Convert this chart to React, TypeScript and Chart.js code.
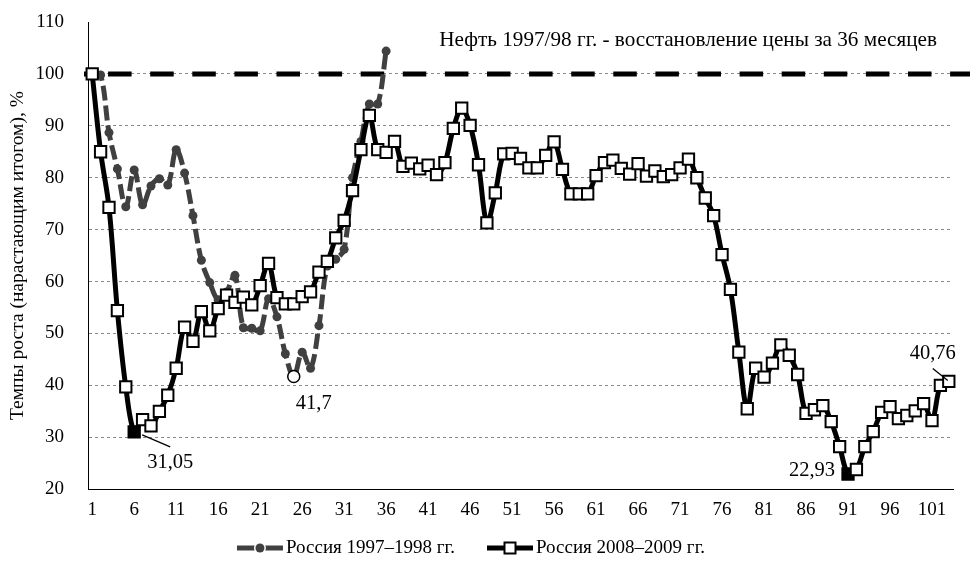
import React, { useEffect, useRef } from 'react';
import { Chart, registerables } from 'chart.js';

Chart.register(...registerables);

// ---------- data ----------
const months: string[] = Array.from({ length: 103 }, (_, i) => String(i + 1));

const russia1997: number[] = [
  100, 99.8, 88.7, 81.7, 74.4, 81.5, 74.8, 78.4, 79.8, 78.6,
  85.4, 80.9, 72.7, 64.1, 59.8, 56.5, 58.0, 61.2, 51.1, 51.0,
  50.5, 56.7, 53.2, 46.1, 41.7, 46.4, 43.3, 51.5, 63.0, 64.3,
  66.2, 80.0, 87.0, 94.2, 94.2, 104.4,
];

const russia2008: number[] = [
  100, 85.0, 74.3, 54.4, 39.7, 31.05, 33.4, 32.2, 35.0, 38.1,
  43.3, 51.2, 48.5, 54.2, 50.5, 54.8, 57.4, 56.0, 57.0, 55.5,
  59.2, 63.5, 56.9, 55.7, 55.7, 57.1, 58.0, 61.8, 63.9, 68.4,
  71.8, 77.5, 85.4, 92.0, 85.4, 84.9, 87.0, 82.2, 82.8, 81.7,
  82.4, 80.6, 82.9, 89.5, 93.4, 90.1, 82.5, 71.3, 77.1, 84.6,
  84.7, 83.7, 81.9, 81.9, 84.3, 86.9, 81.6, 76.9, 76.9, 76.9,
  80.4, 82.9, 83.4, 81.8, 80.7, 82.7, 80.3, 81.3, 80.2, 80.6,
  81.9, 83.6, 80.0, 76.1, 72.7, 65.2, 58.5, 46.4, 35.5, 43.3,
  41.6, 44.3, 47.8, 45.8, 42.1, 34.6, 35.3, 36.1, 33.0, 28.2,
  22.93, 23.8, 28.2, 31.1, 34.8, 35.9, 33.6, 34.2, 35.1, 36.5,
  33.2, 40.0, 40.76,
];

const seriesNames: string[] = ['Россия 1997–1998 гг.', 'Россия 2008–2009 гг.'];
const yTickMin = 20;
const yTickMax = 110;
const yTickStep = 10;
const referenceLevel = 100;
const chartNote = 'Нефть 1997/98 гг. - восстановление цены за 36 месяцев';
const yAxisTitle = 'Темпы роста (нарастающим итогом), %';

const minPoint1997 = 24;
const minPoints2008 = [5, 90];
const lastPoint2008 = 102;

const FONT = "'Liberation Serif', 'Times New Roman', serif";
const GREY = '#404040';

function fmt(v: number): string {
  return String(v).replace('.', ',');
}

function drawIcon(ctx: CanvasRenderingContext2D, kind: number, x: number, y: number) {
  ctx.save();
  ctx.lineWidth = 5;
  ctx.setLineDash([]);
  ctx.strokeStyle = kind === 0 ? GREY : '#000';
  ctx.beginPath();
  ctx.moveTo(x, y);
  ctx.lineTo(x + 46, y);
  ctx.stroke();
  if (kind === 0) {
    ctx.fillStyle = '#fff';
    ctx.beginPath();
    ctx.arc(x + 23, y, 6, 0, Math.PI * 2);
    ctx.fill();
    ctx.fillStyle = GREY;
    ctx.beginPath();
    ctx.arc(x + 23, y, 4.5, 0, Math.PI * 2);
    ctx.fill();
  } else {
    ctx.fillStyle = '#fff';
    ctx.fillRect(x + 17.5, y - 5.5, 11, 11);
    ctx.lineWidth = 2;
    ctx.strokeStyle = '#000';
    ctx.strokeRect(x + 17.5, y - 5.5, 11, 11);
  }
  ctx.restore();
}

const overlayPlugin = {
  id: 'overlay',
  beforeDatasetsDraw(chart: any) {
    const { ctx, scales } = chart;
    const y = scales.y.getPixelForValue(referenceLevel);
    ctx.save();
    ctx.strokeStyle = '#000';
    ctx.lineWidth = 5;
    ctx.setLineDash([23.5, 18.6]);
    ctx.lineDashOffset = 18;
    ctx.beginPath();
    ctx.moveTo(84, y);
    ctx.lineTo(chart.width, y);
    ctx.stroke();
    ctx.restore();
  },
  afterDatasetsDraw(chart: any) {
    const { ctx, scales, chartArea } = chart;
    const xs = scales.x;
    const ys = scales.y;
    ctx.save();
    ctx.fillStyle = '#000';
    ctx.font = `21.2px ${FONT}`;
    ctx.textAlign = 'right';
    ctx.textBaseline = 'middle';
    ctx.fillText(chartNote, chartArea.right - 16, 40);

    ctx.font = `20.5px ${FONT}`;
    ctx.textAlign = 'center';
    ctx.strokeStyle = '#000';
    ctx.lineWidth = 1.3;

    // 31,05 with leader
    const p6x = xs.getPixelForValue(minPoints2008[0]);
    const p6y = ys.getPixelForValue(russia2008[minPoints2008[0]]);
    ctx.beginPath();
    ctx.moveTo(p6x + 8, p6y + 3);
    ctx.lineTo(p6x + 36, p6y + 15);
    ctx.stroke();
    ctx.fillText(fmt(russia2008[minPoints2008[0]]), p6x + 36, p6y + 31);

    // 41,7
    const p25x = xs.getPixelForValue(minPoint1997);
    const p25y = ys.getPixelForValue(russia1997[minPoint1997]);
    ctx.fillText(fmt(russia1997[minPoint1997]), p25x + 20, p25y + 27);

    // 22,93
    const p91x = xs.getPixelForValue(minPoints2008[1]);
    const p91y = ys.getPixelForValue(russia2008[minPoints2008[1]]);
    ctx.fillText(fmt(russia2008[minPoints2008[1]]), p91x - 36, p91y - 3);

    // 40,76 with leader
    const plx = xs.getPixelForValue(lastPoint2008);
    const ply = ys.getPixelForValue(russia2008[lastPoint2008]);
    ctx.beginPath();
    ctx.moveTo(plx - 16, ply - 13);
    ctx.lineTo(plx - 1, ply - 1);
    ctx.stroke();
    ctx.fillText(fmt(russia2008[lastPoint2008]), plx - 16, ply - 28);
    ctx.restore();
  },
  afterDraw(chart: any) {
    const { ctx } = chart;
    ctx.save();
    ctx.font = `19px ${FONT}`;
    ctx.fillStyle = '#000';
    ctx.textBaseline = 'middle';
    ctx.textAlign = 'left';
    const w0 = ctx.measureText(seriesNames[0]).width;
    const w1 = ctx.measureText(seriesNames[1]).width;
    const iconW = 46;
    const gapIcon = 3;
    const gapItem = 32;
    const total = iconW + gapIcon + w0 + gapItem + iconW + gapIcon + w1;
    const cy = 548;
    let x = 471 - total / 2;
    drawIcon(ctx, 0, x, cy);
    x += iconW + gapIcon;
    ctx.fillText(seriesNames[0], x, cy);
    x += w0 + gapItem;
    drawIcon(ctx, 1, x, cy);
    x += iconW + gapIcon;
    ctx.fillText(seriesNames[1], x, cy);
    ctx.restore();
  },
};

export default function App() {
  const canvasRef = useRef<HTMLCanvasElement | null>(null);

  useEffect(() => {
    if (!canvasRef.current) return;
    Chart.defaults.font.family = FONT;
    Chart.defaults.color = '#000';

    const chart = new Chart(canvasRef.current, {
      type: 'line',
      data: {
        labels: months,
        datasets: [
          {
            label: seriesNames[0],
            data: russia1997,
            order: 2,
            borderColor: GREY,
            borderWidth: 5,
            borderDash: [15, 5],
            tension: 0.35,
            pointStyle: 'circle',
            pointRadius: (c: any) => (c.dataIndex === minPoint1997 ? 6 : 4.5),
            pointBackgroundColor: (c: any) => (c.dataIndex === minPoint1997 ? '#fff' : GREY),
            pointBorderColor: (c: any) => (c.dataIndex === minPoint1997 ? '#000' : GREY),
            pointBorderWidth: (c: any) => (c.dataIndex === minPoint1997 ? 1.5 : 0),
            fill: false,
          },
          {
            label: seriesNames[1],
            data: russia2008,
            order: 1,
            borderColor: '#000',
            borderWidth: 5,
            tension: 0.35,
            pointStyle: 'rect',
            pointRadius: 8,
            pointBackgroundColor: (c: any) => (minPoints2008.includes(c.dataIndex) ? '#000' : '#fff'),
            pointBorderColor: '#000',
            pointBorderWidth: 2,
            fill: false,
          },
        ],
      },
      options: {
        animation: false,
        responsive: true,
        maintainAspectRatio: false,
        layout: { padding: { top: 22, right: 17, left: 0, bottom: 32 } },
        plugins: {
          tooltip: { enabled: false },
          legend: { display: false },
        },
        scales: {
          x: {
            type: 'category',
            offset: true,
            grid: { display: false, drawTicks: false },
            border: { display: true, color: '#000', width: 1 },
            ticks: {
              autoSkip: false,
              maxRotation: 0,
              padding: 9,
              font: { size: 19, family: FONT },
              color: '#000',
              callback: (_v: any, i: number) => (i % 5 === 0 ? months[i] : ''),
            },
            afterFit: (s: any) => {
              s.paddingTop = 0;
              s.paddingBottom = 0;
            },
          },
          y: {
            min: yTickMin,
            max: yTickMax,
            ticks: {
              stepSize: yTickStep,
              padding: 24,
              font: { size: 19, family: FONT },
              color: '#000',
            },
            grid: {
              drawTicks: false,
              lineWidth: 1,
              color: (c: any) => (c.tick && c.tick.value === yTickMax ? 'rgba(0,0,0,0)' : '#8a8a8a'),
            },
            border: { display: true, color: '#000', width: 1, dash: [3, 3] },
            title: {
              display: true,
              text: yAxisTitle,
              font: { size: 19.5, family: FONT },
              color: '#000',
              padding: { top: 6, bottom: 0 },
            },
            afterFit: (s: any) => {
              s.width = 88;
              s.paddingTop = 0;
              s.paddingBottom = 0;
            },
          },
        },
      },
      plugins: [overlayPlugin],
    });
    return () => chart.destroy();
  }, []);

  return (
    <div style={{ position: 'absolute', left: 0, top: 0, width: 970, height: 562, background: '#fff' }}>
      <canvas ref={canvasRef} />
    </div>
  );
}
